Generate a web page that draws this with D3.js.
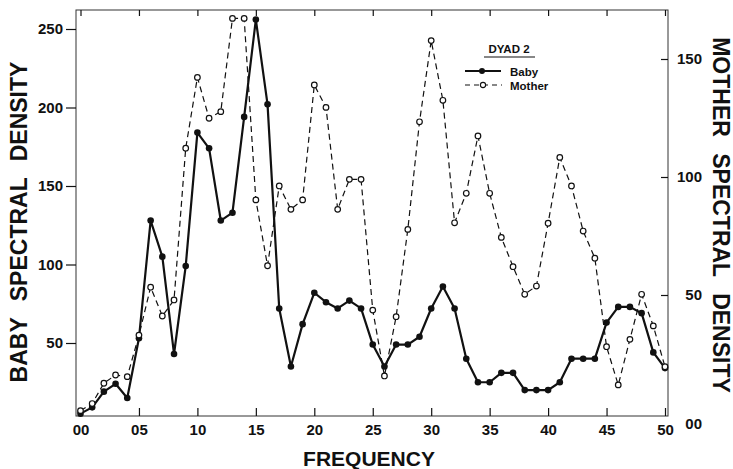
<!DOCTYPE html>
<html>
<head>
<meta charset="utf-8">
<script src="https://cdn.jsdelivr.net/npm/d3@7"></script>
<style>
  html, body { margin: 0; padding: 0; background: #fff; }
  svg { display: block; font-family: "Liberation Sans", Arial, Helvetica, sans-serif; }
</style>
</head>
<body>
<svg id="chart" width="733" height="469"></svg>
<script>
// ---- data ----
const frequency = d3.range(0, 51); // frequency index 00..50 (x 0.01)
const babyDensity = [5, 9, 19, 24, 15, 53, 128, 105, 43, 99,
  184, 174, 128, 133, 194, 256, 202, 72, 35, 62,
  82, 76, 72, 77, 72, 49, 35, 49, 49, 54,
  72, 86, 72, 40, 25, 25, 31, 31, 20, 20,
  20, 25, 40, 40, 40, 63, 73, 73, 69, 44, 34];
const motherDensity = [1, 4, 12.6, 16.1, 15.4, 33, 53.3, 41.1, 47.9, 112.2,
  142.2, 124.9, 127.7, 167.2, 167.2, 90.3, 62.4, 96.2, 86.3, 90.3,
  139, 129.5, 86.3, 99, 99, 43.6, 15.7, 40.8, 77.8, 123.4,
  157.8, 132.5, 80.6, 93.1, 117.4, 93.1, 74.4, 62, 50.3, 53.8,
  80.4, 108.3, 96.2, 77.1, 65.6, 28.1, 11.9, 31.2, 50.3, 36.9, 19.6];
const xTicks = [0, 5, 10, 15, 20, 25, 30, 35, 40, 45, 50];
const xTickLabels = ["00", "05", "10", "15", "20", "25", "30", "35", "40", "45", "50"];
const leftTicks = [50, 100, 150, 200, 250];
const leftTickLabels = ["50", "100", "150", "200", "250"];
const rightTicks = [0, 50, 100, 150];
const rightTickLabels = ["00", "50", "100", "150"];
const seriesNames = ["Baby", "Mother"];
const legendTitle = "DYAD 2";

// ---- layout ----
const svg = d3.select("#chart");
const frame = { left: 76, right: 668, top: 10, bottom: 416 };
const x = d3.scaleLinear().domain([0, 50]).range([80.5, 665]);
const yL = d3.scaleLinear().domain([0, 250]).range([421.5, 29]);
const yR = d3.scaleLinear().domain([0, 150]).range([413, 59]);
const ink = "#111";

// frame
svg.append("rect")
  .attr("x", frame.left).attr("y", frame.top)
  .attr("width", frame.right - frame.left).attr("height", frame.bottom - frame.top)
  .attr("fill", "none").attr("stroke", "#333").attr("stroke-width", 1);

function styleAxis(g) {
  g.select(".domain").remove();
  g.selectAll(".tick line").attr("stroke", ink).attr("stroke-width", 1.2);
  g.selectAll(".tick text").attr("fill", ink)
    .style("font-size", "15px").style("font-weight", "bold");
}

// bottom axis
svg.append("g").attr("transform", `translate(0,${frame.bottom})`)
  .call(d3.axisBottom(x).tickValues(xTicks).tickSize(-8).tickPadding(8)
    .tickFormat((d, i) => xTickLabels[i]))
  .call(styleAxis);

// top ticks
svg.append("g").attr("transform", `translate(0,${frame.top})`)
  .call(d3.axisTop(x).tickValues(xTicks).tickSize(-6).tickFormat(""))
  .call(styleAxis);

// left axis
svg.append("g").attr("transform", `translate(${frame.left},0)`)
  .call(d3.axisLeft(yL).tickValues(leftTicks).tickSize(10).tickPadding(3)
    .tickFormat((d, i) => leftTickLabels[i]))
  .call(styleAxis);

// right axis
const rAxis = svg.append("g").attr("transform", `translate(${frame.right},0)`)
  .call(d3.axisRight(yR).tickValues(rightTicks).tickSize(-7)
    .tickFormat((d, i) => rightTickLabels[i]))
  .call(styleAxis);
rAxis.selectAll(".tick text").attr("x", 34).attr("text-anchor", "end");
rAxis.selectAll(".tick").filter(d => d === 0).select("line").remove();
rAxis.selectAll(".tick").filter(d => d === 0).select("text").attr("dy", "1.0em");

// axis titles
svg.append("text")
  .attr("transform", "translate(27,222) rotate(-90)")
  .attr("text-anchor", "middle").attr("fill", ink)
  .style("font-size", "23px").style("font-weight", "bold").style("word-spacing", "10px")
  .text("BABY SPECTRAL DENSITY");
svg.append("text")
  .attr("transform", "translate(713,215) rotate(90)")
  .attr("text-anchor", "middle").attr("fill", ink)
  .style("font-size", "23px").style("font-weight", "bold").style("word-spacing", "10px")
  .text("MOTHER SPECTRAL DENSITY");
svg.append("text")
  .attr("x", 369).attr("y", 466)
  .attr("text-anchor", "middle").attr("fill", ink)
  .style("font-size", "21px").style("font-weight", "bold")
  .text("FREQUENCY");

// mother series (dashed, open markers)
const motherLine = d3.line().x((d, i) => x(frequency[i])).y(d => yR(d));
svg.append("path").datum(motherDensity)
  .attr("d", motherLine).attr("fill", "none")
  .attr("stroke", ink).attr("stroke-width", 1.2).attr("stroke-dasharray", "6,4");

// baby series (solid, filled markers)
const babyLine = d3.line().x((d, i) => x(frequency[i])).y(d => yL(d));
svg.append("path").datum(babyDensity)
  .attr("d", babyLine).attr("fill", "none")
  .attr("stroke", ink).attr("stroke-width", 2.2).attr("stroke-linejoin", "round");

svg.append("g").selectAll("circle").data(babyDensity).join("circle")
  .attr("cx", (d, i) => x(frequency[i])).attr("cy", d => yL(d))
  .attr("r", 3.3).attr("fill", ink);

svg.append("g").selectAll("circle").data(motherDensity).join("circle")
  .attr("cx", (d, i) => x(frequency[i])).attr("cy", d => yR(d))
  .attr("r", 2.8).attr("fill", "#fff").attr("stroke", ink).attr("stroke-width", 1.2);

// legend
const lg = svg.append("g");
lg.append("text").attr("x", 509).attr("y", 53).attr("text-anchor", "middle")
  .attr("fill", ink).style("font-size", "11.5px").style("font-weight", "bold")
  .text(legendTitle);
lg.append("line").attr("x1", 484).attr("x2", 535).attr("y1", 57).attr("y2", 57)
  .attr("stroke", ink).attr("stroke-width", 1.2);
lg.append("line").attr("x1", 465).attr("x2", 501).attr("y1", 71).attr("y2", 71)
  .attr("stroke", ink).attr("stroke-width", 2);
lg.append("circle").attr("cx", 482).attr("cy", 71).attr("r", 3).attr("fill", ink);
lg.append("text").attr("x", 510).attr("y", 75.5).attr("fill", ink)
  .style("font-size", "11.5px").style("font-weight", "bold").text(seriesNames[0]);
lg.append("line").attr("x1", 465).attr("x2", 502).attr("y1", 85).attr("y2", 85)
  .attr("stroke", ink).attr("stroke-width", 1.1).attr("stroke-dasharray", "5,4");
lg.append("circle").attr("cx", 483).attr("cy", 85).attr("r", 2.6)
  .attr("fill", "#fff").attr("stroke", ink).attr("stroke-width", 1.1);
lg.append("text").attr("x", 510).attr("y", 89.5).attr("fill", ink)
  .style("font-size", "11.5px").style("font-weight", "bold").text(seriesNames[1]);
</script>
</body>
</html>
